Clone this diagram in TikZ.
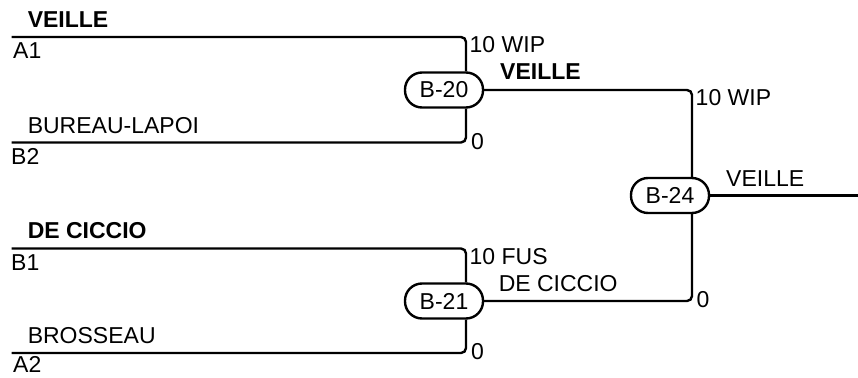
\documentclass[tikz,border=0pt]{standalone}
\usepackage{fontspec}
\setmainfont{Liberation Sans}
\usetikzlibrary{calc}
\begin{document}
\begin{tikzpicture}[x=1pt,y=-1pt,
  font=\fontsize{23}{27}\selectfont,
  line width=2.4pt,
  lbl/.style={anchor=base west, inner sep=0pt},
  boldlbl/.style={anchor=base west, inner sep=0pt, font=\fontsize{23}{27}\selectfont\bfseries},
  bracket/.style={rounded corners=5pt},
  match/.style={draw, rounded corners=17pt, minimum width=78pt, minimum height=35pt, inner sep=0pt, fill=white}]
\useasboundingbox (0,0) rectangle (858,377);

\begin{scope}[yshift=4pt]
% match nodes
\node[match] (b20) at (444,94) {B-20};
\node[match] (b21) at (444,305) {B-21};
\node[match] (b24) at (670,199.5) {B-24};

% free ends
\coordinate (a1) at (11.7,41);
\coordinate (b2) at (11.7,146.5);
\coordinate (b1) at (11.7,252.5);
\coordinate (a2) at (11.7,357);
\coordinate (out) at (858,199.5);

% connectors
\draw[bracket] (a1) -| ($(b20.north)+(22,0)$);
\draw[bracket] (b2) -| ($(b20.south)+(22,0)$);
\draw[bracket] (b1) -| ($(b21.north)+(22,0)$);
\draw[bracket] (a2) -| ($(b21.south)+(22,0)$);
\draw[bracket] (b20.east) -| ($(b24.north)+(22,0)$);
\draw[bracket] (b21.east) -| ($(b24.south)+(22,0)$);
\draw (b24.east) -- (out);

% left labels
\node[boldlbl] (t1) at (26.6,31.5) {VEILLE};
\node[lbl] (t2) at (12,62.7) {A1};
\node[lbl] (t3) at (26.6,137) {BUREAU-LAPOI};
\node[lbl] (t4) at (10,168.2) {B2};
\node[boldlbl] (t5) at (26.6,242.8) {DE CICCIO};
\node[lbl] (t6) at (10,274.2) {B1};
\node[lbl] (t7) at (26.6,347.3) {BROSSEAU};
\node[lbl, text depth=0pt] (t8) at (12,376.3) {A2};

% scores and winners
\node[lbl] (s1) at (468.5,56.5) {10 WIP};
\node[lbl] (s2) at (470,153.3) {0};
\node[boldlbl] (w1) at (499,84) {VEILLE};
\node[lbl] (s3) at (694.5,109.5) {10 WIP};
\node[lbl] (s4) at (468.5,268.3) {10 FUS};
\node[lbl] (w2) at (497.6,295) {DE CICCIO};
\node[lbl] (s5) at (470,363.5) {0};
\node[lbl] (s6) at (695.5,311.7) {0};
\node[lbl] (w3) at (725,190) {VEILLE};
\end{scope}
\end{tikzpicture}
\end{document}
